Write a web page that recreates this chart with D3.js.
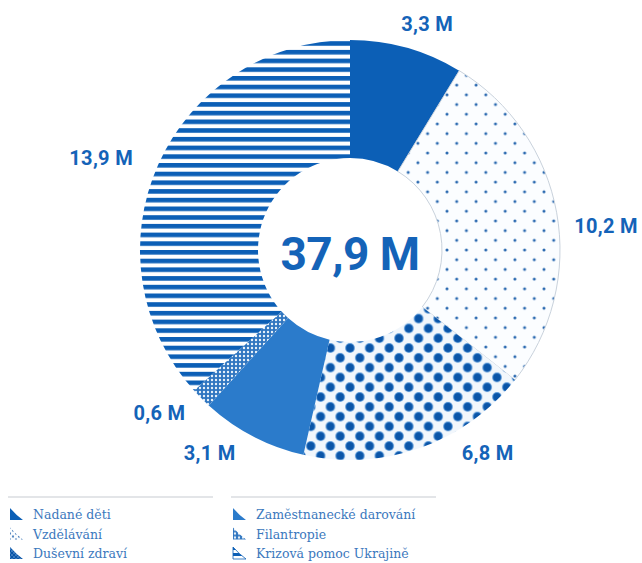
<!DOCTYPE html>
<html>
<head>
<meta charset="utf-8">
<script src="https://cdn.jsdelivr.net/npm/d3@7"></script>
<style>
  body { margin: 0; background: #fff; }
  svg { display: block; }
</style>
</head>
<body>
<div id="chart"></div>
<script>
// data
var categories = ["Nadané děti", "Vzdělávání", "Duševní zdraví",
                  "Zaměstnanecké darování", "Filantropie", "Krizová pomoc Ukrajině"];
var values = [3.3, 10.2, 6.8, 3.1, 0.6, 13.9];
var valueLabels = ["3,3 M", "10,2 M", "6,8 M", "3,1 M", "0,6 M", "13,9 M"];
var totalLabel = "37,9 M";
var fills = ["url(#p-solid)", "url(#p-dots)", "url(#p-bigdots)",
             "url(#p-mid)", "url(#p-check)", "url(#p-stripes)"];
var legendFills = ["url(#p-solid)", "url(#p-dots-sm)", "url(#p-bigdots-sm)",
                   "url(#p-mid)", "url(#p-check)", "url(#p-stripes-sm)"];

// layout tweaks for the value labels (dx, dy from the radial spot)
var labelNudge = [[11, 10], [15, 19], [56, -28], [-27, -14], [-17, -10], [-25, 8]];

var width = 642, height = 563;
var cx = 350, cy = 250;
var outerR = 210, innerR = 92;
var blue = "#0c5fb6", midBlue = "#2b7bcb", textBlue = "#1463b8";

var svg = d3.select("#chart")
    .append("svg")
    .attr("width", width)
    .attr("height", height);

var defs = svg.append("defs");

function solidPattern(id, color) {
    defs.append("pattern").attr("id", id)
        .attr("patternUnits", "userSpaceOnUse").attr("width", 10).attr("height", 10)
      .append("rect").attr("width", 10).attr("height", 10).attr("fill", color);
}
solidPattern("p-solid", blue);
solidPattern("p-mid", midBlue);

// staggered dot grid
function dotPattern(id, step, bg, rings) {
    var p = defs.append("pattern").attr("id", id)
        .attr("patternUnits", "userSpaceOnUse").attr("width", step).attr("height", step);
    p.append("rect").attr("width", step).attr("height", step).attr("fill", bg);
    [[0, 0], [step, 0], [0, step], [step, step], [step / 2, step / 2]].forEach(function(pt) {
        rings.forEach(function(r) {
            p.append("circle").attr("cx", pt[0]).attr("cy", pt[1])
                .attr("r", r[0]).attr("fill", r[1]);
        });
    });
}
dotPattern("p-dots", 19.4, "#fbfdff", [[1.5, "#2a69b0"]]);
dotPattern("p-dots-sm", 6, "#fbfdff", [[1.1, "#2a69b0"]]);
dotPattern("p-bigdots", 19.6, "#f2f7fc", [[4.8, "#4f92d6"], [3.8, "#0a55a8"]]);
dotPattern("p-bigdots-sm", 4, "#8fb8e4", [[1.6, "#0a55a8"]]);

// fine check
var pc = defs.append("pattern").attr("id", "p-check")
    .attr("patternUnits", "userSpaceOnUse").attr("width", 4).attr("height", 4);
pc.append("rect").attr("width", 4).attr("height", 4).attr("fill", "#2f75c0");
pc.append("circle").attr("cx", 2).attr("cy", 2).attr("r", 1.2).attr("fill", "#e8f1fa");

// stripes
function stripePattern(id, period, dark) {
    var p = defs.append("pattern").attr("id", id)
        .attr("patternUnits", "userSpaceOnUse").attr("width", 10).attr("height", period);
    p.append("rect").attr("width", 10).attr("height", period).attr("fill", "#fff");
    p.append("rect").attr("width", 10).attr("height", dark).attr("fill", blue);
}
stripePattern("p-stripes", 8.7, 4.6);
stripePattern("p-stripes-sm", 6, 3);

// donut
var pie = d3.pie().sort(null).value(function(d) { return d; });
var arcs = pie(values);

var arc = d3.arc().innerRadius(innerR).outerRadius(outerR);

var donut = svg.append("g").attr("transform", `translate(${cx}, ${cy})`);

donut.selectAll("path")
    .data(arcs)
    .enter()
    .append("path")
    .attr("d", arc)
    .attr("fill", function(d, i) { return fills[i]; })
    .attr("stroke", function(d, i) { return i == 1 ? "#c9d2dc" : "none"; })
    .attr("stroke-width", 1);

donut.append("text")
    .attr("x", 0)
    .attr("y", 4)
    .attr("dominant-baseline", "central")
    .style("text-anchor", "middle")
    .style("font-family", "Roboto")
    .style("font-weight", 700)
    .style("font-size", "46px")
    .style("letter-spacing", "-0.5px")
    .style("fill", textBlue)
    .text(totalLabel);

var labelArc = d3.arc().innerRadius(245).outerRadius(245);

donut.selectAll(".val")
    .data(arcs)
    .enter()
    .append("text")
    .attr("class", "val")
    .attr("x", function(d, i) { return labelArc.centroid(d)[0] + labelNudge[i][0]; })
    .attr("y", function(d, i) { return labelArc.centroid(d)[1] + labelNudge[i][1]; })
    .attr("dominant-baseline", "central")
    .style("text-anchor", "middle")
    .style("font-family", "Roboto")
    .style("font-weight", 700)
    .style("font-size", "20px")
    .style("letter-spacing", "0.3px")
    .style("fill", textBlue)
    .text(function(d, i) { return valueLabels[i]; });

// legend
var legend = svg.append("g");
var colX = [10, 233], rowY = [508, 527.5, 547];

colX.forEach(function(x) {
    legend.append("line")
        .attr("x1", x - 2).attr("x2", x + 203)
        .attr("y1", 497).attr("y2", 497)
        .attr("stroke", "#e3e5e8").attr("stroke-width", 2);
});

var item = legend.selectAll(".item")
    .data(categories)
    .enter()
    .append("g")
    .attr("class", "item")
    .attr("transform", function(d, i) {
        return `translate(${colX[Math.floor(i / 3)]}, ${rowY[i % 3]})`;
    });

item.append("path")
    .attr("d", "M0,0 L0,12 L13,12 Q6,7 0,0 Z")
    .attr("fill", function(d, i) { return legendFills[i]; })
    .attr("stroke", function(d, i) { return i == 5 ? blue : "none"; })
    .attr("stroke-width", 0.8);

item.append("text")
    .attr("x", 23)
    .attr("y", 6.5)
    .attr("dominant-baseline", "central")
    .style("font-family", "DejaVu Serif")
    .style("font-size", "12.5px")
    .style("fill", "#3b78bd")
    .text(function(d) { return d; });
</script>
</body>
</html>
